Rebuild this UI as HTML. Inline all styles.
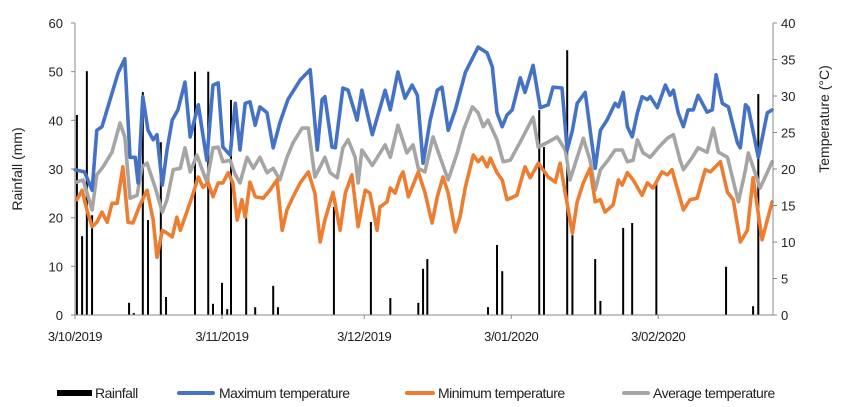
<!DOCTYPE html>
<html><head><meta charset="utf-8">
<style>
html,body{margin:0;padding:0;background:#fff;}
svg{display:block;font-family:"Liberation Sans",Arial,sans-serif;}
text{fill:#222;}
</style></head>
<body>
<svg id="chart" width="850" height="407" viewBox="0 0 850 407" xmlns="http://www.w3.org/2000/svg"></svg>
<script>
// ---- data (day offset from 3 Oct 2019) ----
const tickDays = [0, 31, 61, 92, 123];
const tickLabels = ["3/10/2019", "3/11/2019", "3/12/2019", "3/01/2020", "3/02/2020"];
const rainDays = [0.4,1.5,2.5,3.6,11.4,12.4,14.3,15.4,18.1,19.2,25.3,28.1,29.1,31,32.1,32.9,36.1,38,41.8,42.8,54.6,62.4,66.5,72.4,73.4,74.3,87.1,89,90.1,97.9,98.9,103.8,104.9,109.7,110.8,115.6,117.5,122.6,137.3,143,144.1];
const rainMm = [41.1,16.2,50.1,20.5,2.5,0.4,45.8,19.5,35.5,3.7,50,50,2.3,6.6,1.2,44.2,20.1,1.6,6.0,1.6,22.2,19.1,3.5,2.5,9.5,11.5,1.6,14.4,9.0,42.1,34.5,54.4,16.4,11.5,2.9,17.9,18.9,27.7,9.9,1.8,45.4];
const maxDays = [0,2,3.6,4.6,5.7,7.4,9.1,10.5,11.6,12.7,13.3,14.3,15.4,16.5,17.3,18.4,19.4,20.5,21.7,23.2,24.3,26,27.8,29.1,30.2,31.2,32.7,33.8,34.8,35.9,36.9,38,39,40.5,41.8,43.2,44.9,47.5,49.6,51.1,52.1,52.7,54.2,54.9,56.5,57.6,59.5,60.5,62.7,65.4,66.5,68.1,69.6,71.1,72.2,73.4,74.9,76.4,77.4,78.7,80.2,82.3,85,86.9,88,89,90.1,91.1,92.2,93.9,94.9,96.6,98.1,99.8,100.8,102.7,103.8,104.9,105.9,107.6,109.7,110.8,112.2,113.9,114.6,115.6,116.5,117.5,118.6,119.6,120.7,121.3,122.8,124.5,125.5,126.2,127.2,128.3,129.3,130.4,131.4,133.3,134.4,135.2,136.5,137.8,139.7,140.3,141.4,142,144.1,146,147];
const maxTemp = [19.9,19.6,17.1,25.3,25.8,29.5,33.2,35.1,21.6,21.6,18.1,29.9,25.3,24.0,24.7,17.8,22.6,26.7,28.1,31.9,24.4,28.8,21.2,31.5,31.8,23.0,21.9,29.0,22.6,29.0,29.2,26.0,28.5,27.7,22.9,26.3,29.5,32.2,33.6,22.6,29.5,29.9,23.0,22.9,31.1,30.8,26.7,30.8,24.7,30.8,28.1,33.3,29.7,31.5,30.1,20.8,26.7,30.8,31.2,25.3,28.1,33.2,36.7,35.9,34.0,27.7,25.8,27.4,28.1,32.5,30.5,34.2,28.4,28.8,31.2,31.1,22.6,25.3,29.0,30.5,20.1,25.3,26.7,29.0,28.5,30.5,25.8,24.4,27.7,29.9,29.5,29.9,28.4,31.5,30.1,30.8,27.7,25.8,28.1,28.1,30.1,27.8,28.1,32.9,29.0,28.5,23.6,22.9,28.8,28.4,21.6,27.7,28.1];
const minDays = [0.4,1.5,2.5,3.6,4.6,5.7,6.8,7.8,8.9,10.1,11.2,12.2,13.7,15.2,16.5,17.3,18.4,19.4,20.5,21.5,22.2,23.2,24.7,26,27,28.1,29.1,30.2,31.2,32.3,33.3,34.2,35.2,35.9,36.9,38,39.7,41.1,42.6,43.7,44.7,46,47.5,49.2,50.6,51.7,52.7,54.4,55.9,57,58.4,59.7,61.2,62.2,63.7,64.3,65.8,66.5,67.5,68.6,69.2,70.3,72.4,73.8,75.3,76.4,77.6,78.7,80.2,81.2,82.3,84,85,85.9,86.9,87.6,89,90.1,91.1,93.2,94.9,96,97.7,99.8,101.3,102.3,103.4,104.9,105.9,107.2,108.6,109.7,110.8,111.8,113.5,114.6,115.4,116.5,117.7,119.6,120.7,121.9,123.8,124.9,125.9,128.3,129.7,131.2,132.9,134,136.1,137.6,138.8,140.3,141.8,143,144.9,147];
const minTemp = [15.8,17.1,14.4,12.1,12.7,14.1,12.7,15.3,15.3,20.3,12.7,12.6,15.1,17.1,13.0,7.9,11.6,11.2,10.7,13.4,11.6,13.4,16.2,18.9,17.5,18.1,16.2,18.1,18.1,19.5,18.1,13.0,15.8,13.4,18.2,16.2,16.0,17.1,18.5,11.6,14.4,16.2,18.1,19.6,16.7,10.0,13.0,16.8,11.6,16.7,19.2,12.1,17.1,16.7,11.6,14.8,15.5,17.4,16.7,18.9,19.6,16.2,19.6,16.8,12.6,16.2,18.9,16.7,11.4,13.4,17.5,21.9,21.0,21.6,20.3,21.5,19.5,18.5,15.8,16.4,20.3,18.8,20.8,18.9,18.2,20.8,16.7,11.2,15.5,18.1,20.1,15.5,15.8,14.1,15.1,18.5,17.8,19.5,18.5,16.4,18.1,17.4,19.6,19.2,19.9,14.4,15.8,16.0,19.9,19.6,21.0,16.8,15.8,10.0,11.6,18.8,10.3,15.5];
const avgDays = [0.4,1.7,3.6,4.6,5.9,7.8,9.5,10.5,11.6,13.1,14.1,15.2,16.9,18.4,19.4,20.7,22.2,23.2,24.3,25.7,27.8,29.1,30.2,31.2,32.7,33.8,34.8,36.3,37.6,39,40.5,41.8,43.2,44.7,46,47.9,49.2,50.6,51.7,52.7,53.8,55.3,56.5,57.6,59.1,59.7,60.5,62.7,65.4,66.5,68.1,70,71.3,72.4,73.8,75.5,77,78.7,80.6,81.9,83.8,85,86.1,87.1,89,90.3,91.8,94.3,96.6,97.7,99.8,101.7,103.4,104.4,105.9,107.2,108.6,109.7,110.8,112.4,113.9,115.4,116.5,117.7,118.6,119.8,121.3,123,124.9,126.2,127.6,128.3,130.2,131.4,133.3,134.6,135.7,137.6,139.9,141.4,142,144.5,147];
const avgTemp = [18.2,18.5,14.4,19.2,20.3,22.3,26.3,24.4,16.0,16.4,20.3,20.8,17.5,14.1,15.8,19.9,20.1,22.9,19.6,21.9,18.2,22.9,23.0,21.0,21.2,19.2,18.1,21.6,20.1,21.6,19.5,20.1,18.5,21.6,23.6,25.6,25.6,18.9,20.3,21.6,19.5,18.8,22.9,24.0,21.6,18.1,22.6,20.5,23.3,21.6,26.0,22.2,23.3,20.1,19.6,24.4,21.6,18.5,22.2,25.3,28.5,27.7,25.8,26.7,24.0,21.0,21.2,24.2,27.1,23.0,23.7,24.4,22.6,18.5,21.6,24.2,21.2,17.1,19.9,21.2,22.6,22.6,21.0,21.2,24.0,22.2,21.6,22.9,24.2,24.7,21.2,19.9,21.6,22.9,22.3,25.6,22.3,21.6,15.5,19.9,22.2,17.4,21.0];
const leftTicks = [0,10,20,30,40,50,60];
const rightTicks = [0,5,10,15,20,25,30,35,40];

// ---- geometry ----
const X0=75, X1=773, Y0=315, Y1=23, DMAX=147.2;
const NS="http://www.w3.org/2000/svg";
const svg=document.getElementById('chart');
function xs(d){return X0+(d/DMAX)*(X1-X0);}
function yl(v){return Y0-(v/60)*(Y0-Y1);}
function yr(v){return Y0-(v/40)*(Y0-Y1);}
function mk(tag,attrs){const e=document.createElementNS(NS,tag);for(const k in attrs)e.setAttribute(k,attrs[k]);svg.appendChild(e);return e;}

// rainfall bars
rainDays.forEach((d,i)=>{
  const y=yl(rainMm[i]);
  const b=mk('rect',{x:xs(d)-1,y:y,width:2,height:Y0-y,fill:'#000'});
  
  
});

// temperature lines
function line(days,vals,color,name){
  const pts=days.map((d,i)=>xs(d).toFixed(1)+','+yr(vals[i]).toFixed(1)).join(' ');
  const p=mk('polyline',{points:pts,fill:'none',stroke:color,'stroke-width':3.6,'stroke-linejoin':'round','stroke-linecap':'round'});
  
  
}
line(avgDays,avgTemp,'#A5A5A5','average-temperature-line');
line(minDays,minTemp,'#ED7D31','minimum-temperature-line');
line(maxDays,maxTemp,'#4472C4','maximum-temperature-line');

// axes
const ax=mk('line',{x1:X0,y1:Y1,x2:X0,y2:Y0,stroke:'#888','stroke-width':1});


const ar=mk('line',{x1:X1,y1:Y1,x2:X1,y2:Y0,stroke:'#888','stroke-width':1});


const ab=mk('line',{x1:X0-4,y1:Y0,x2:X1+4,y2:Y0,stroke:'#888','stroke-width':1});



leftTicks.forEach(v=>{
  const t=mk('line',{x1:X0-4,y1:yl(v),x2:X0,y2:yl(v),stroke:'#888'});
  
  
  const l=mk('text',{x:X0-12,y:yl(v)+5,'text-anchor':'end','font-size':13});
  l.textContent=v;
  
  
});
rightTicks.forEach(v=>{
  const t=mk('line',{x1:X1,y1:yr(v),x2:X1+4,y2:yr(v),stroke:'#888'});
  
  
  const l=mk('text',{x:X1+8,y:yr(v)+5,'text-anchor':'start','font-size':13});
  l.textContent=v;
  
  
});
tickDays.forEach((d,i)=>{
  const t=mk('line',{x1:xs(d),y1:Y0,x2:xs(d),y2:Y0+4,stroke:'#888'});
  
  
  const l=mk('text',{x:xs(d),y:Y0+26,'text-anchor':'middle','font-size':13,'letter-spacing':'-0.4'});
  l.textContent=tickLabels[i];
  
  
});

const lt=mk('text',{x:0,y:0,'text-anchor':'middle','font-size':14,transform:'translate(22,169) rotate(-90)'});
lt.textContent='Rainfall (mm)';


const rt=mk('text',{x:0,y:0,'text-anchor':'middle','font-size':14,transform:'translate(829,119) rotate(-90)'});
rt.textContent='Temperature (°C)';



// legend
const leg=[['Rainfall','#000',57,92,95,6],['Maximum temperature','#4472C4',177,215,219,4],['Minimum temperature','#ED7D31',405,435,438,4],['Average temperature','#A5A5A5',622,650,653,4]];
leg.forEach(e=>{
  const s=mk('rect',{x:e[2],y:393-e[5]/2,width:e[3]-e[2],height:e[5],rx:e[5]==4?2:0,fill:e[1]});
  
  
  const t=mk('text',{x:e[4],y:398,'font-size':14,'letter-spacing':'-0.5'});
  t.textContent=e[0];
  
  
});
</script>
</body></html>
